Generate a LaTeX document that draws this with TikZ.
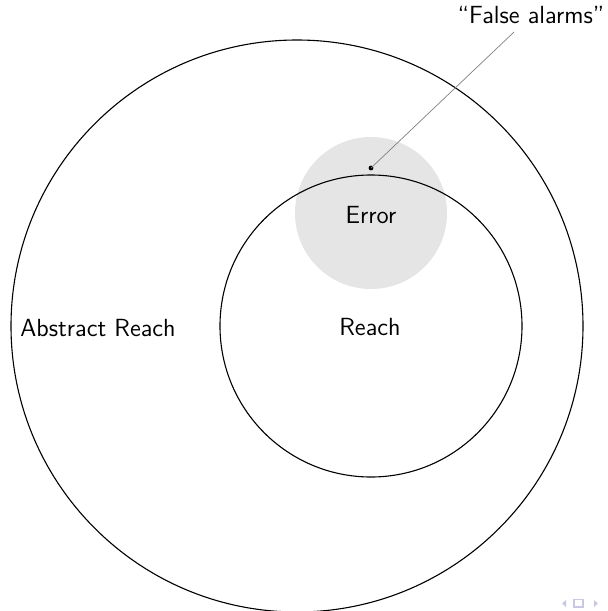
\documentclass[tikz,border=0pt]{standalone}
\usepackage{tikz}
\definecolor{errfill}{gray}{0.9}
\definecolor{navcol}{RGB}{200,200,228}
\tikzset{
  px/.style={x=0.5pt,y=-0.5pt},
  ring/.style={draw=black,line width=0.55pt,circle,inner sep=0pt},
  lbl/.style={font=\sffamily\fontsize{12.4}{14}\selectfont,inner sep=0pt},
  pointer/.style={draw=gray,line width=0.35pt},
  navicon/.style={fill=navcol,draw=none}
}
\begin{document}
\begin{tikzpicture}[px]
\useasboundingbox (0,0) rectangle (607,611);
\node[ring,minimum size=572pt/2] (abs) at (297,326) {};
\node[circle,fill=errfill,inner sep=0pt,minimum size=152pt/2] (err) at (371,213) {};
\node[ring,minimum size=302pt/2] (reach) at (371,326) {};
\node[lbl] (errl) at (371,215) {Error};
\node[lbl] (reachl) at (370,327) {Reach};
\node[lbl] (absl) at (98,328) {Abstract Reach};
\node[lbl] (fa) at (531,15) {``False alarms''};
\coordinate (dot) at (371,168);
\coordinate (faend) at (514,32);
\fill (dot) circle (1.2pt);
\draw[pointer] (dot) -- (faend);
% navigation symbols
\fill[navicon] (566,600) -- (566,607) -- (562,603.5) -- cycle;
\draw[navcol,line width=0.6pt] (574,599.5) rectangle (583,607);
\fill[navicon] (594,600) -- (594,607) -- (598,603.5) -- cycle;
\end{tikzpicture}
\end{document}
